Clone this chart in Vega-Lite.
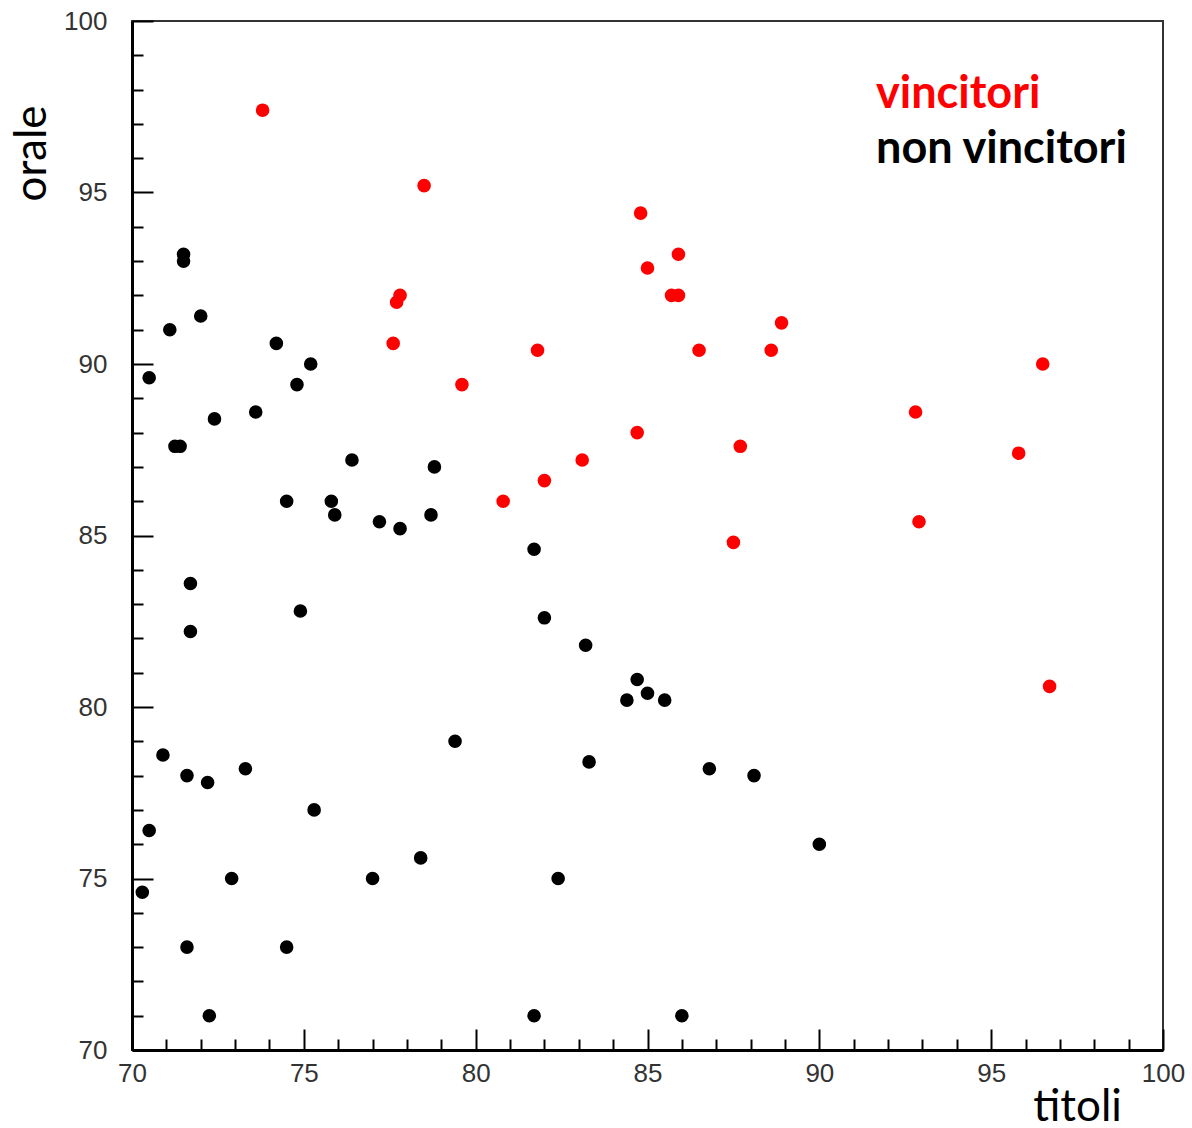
{
  "$schema": "https://vega.github.io/schema/vega-lite/v6.json",
  "width": 1031,
  "height": 1029,
  "autosize": {"type": "none"},
  "padding": {"left": 132, "top": 21, "right": 29, "bottom": 78},
  "background": "white",
  "config": {"view": {"stroke": "#333333", "strokeWidth": 2}},
  "datasets": {
    "punti": [
      {"gruppo": "non vincitori", "titoli": 70.3, "orale": 74.6},
      {"gruppo": "non vincitori", "titoli": 70.5, "orale": 89.6},
      {"gruppo": "non vincitori", "titoli": 70.5, "orale": 76.4},
      {"gruppo": "non vincitori", "titoli": 70.9, "orale": 78.6},
      {"gruppo": "non vincitori", "titoli": 71.1, "orale": 91.0},
      {"gruppo": "non vincitori", "titoli": 71.25, "orale": 87.6},
      {"gruppo": "non vincitori", "titoli": 71.4, "orale": 87.6},
      {"gruppo": "non vincitori", "titoli": 71.5, "orale": 93.2},
      {"gruppo": "non vincitori", "titoli": 71.5, "orale": 93.0},
      {"gruppo": "non vincitori", "titoli": 71.6, "orale": 78.0},
      {"gruppo": "non vincitori", "titoli": 71.6, "orale": 73.0},
      {"gruppo": "non vincitori", "titoli": 71.7, "orale": 83.6},
      {"gruppo": "non vincitori", "titoli": 71.7, "orale": 82.2},
      {"gruppo": "non vincitori", "titoli": 72.0, "orale": 91.4},
      {"gruppo": "non vincitori", "titoli": 72.2, "orale": 77.8},
      {"gruppo": "non vincitori", "titoli": 72.25, "orale": 71.0},
      {"gruppo": "non vincitori", "titoli": 72.4, "orale": 88.4},
      {"gruppo": "non vincitori", "titoli": 72.9, "orale": 75.0},
      {"gruppo": "non vincitori", "titoli": 73.3, "orale": 78.2},
      {"gruppo": "non vincitori", "titoli": 73.6, "orale": 88.6},
      {"gruppo": "non vincitori", "titoli": 74.2, "orale": 90.6},
      {"gruppo": "non vincitori", "titoli": 74.5, "orale": 86.0},
      {"gruppo": "non vincitori", "titoli": 74.5, "orale": 73.0},
      {"gruppo": "non vincitori", "titoli": 74.8, "orale": 89.4},
      {"gruppo": "non vincitori", "titoli": 74.9, "orale": 82.8},
      {"gruppo": "non vincitori", "titoli": 75.2, "orale": 90.0},
      {"gruppo": "non vincitori", "titoli": 75.3, "orale": 77.0},
      {"gruppo": "non vincitori", "titoli": 75.8, "orale": 86.0},
      {"gruppo": "non vincitori", "titoli": 75.9, "orale": 85.6},
      {"gruppo": "non vincitori", "titoli": 76.4, "orale": 87.2},
      {"gruppo": "non vincitori", "titoli": 77.0, "orale": 75.0},
      {"gruppo": "non vincitori", "titoli": 77.2, "orale": 85.4},
      {"gruppo": "non vincitori", "titoli": 77.8, "orale": 85.2},
      {"gruppo": "non vincitori", "titoli": 78.4, "orale": 75.6},
      {"gruppo": "non vincitori", "titoli": 78.7, "orale": 85.6},
      {"gruppo": "non vincitori", "titoli": 78.8, "orale": 87.0},
      {"gruppo": "non vincitori", "titoli": 79.4, "orale": 79.0},
      {"gruppo": "non vincitori", "titoli": 81.7, "orale": 84.6},
      {"gruppo": "non vincitori", "titoli": 81.7, "orale": 71.0},
      {"gruppo": "non vincitori", "titoli": 82.0, "orale": 82.6},
      {"gruppo": "non vincitori", "titoli": 82.4, "orale": 75.0},
      {"gruppo": "non vincitori", "titoli": 83.2, "orale": 81.8},
      {"gruppo": "non vincitori", "titoli": 83.3, "orale": 78.4},
      {"gruppo": "non vincitori", "titoli": 84.4, "orale": 80.2},
      {"gruppo": "non vincitori", "titoli": 84.7, "orale": 80.8},
      {"gruppo": "non vincitori", "titoli": 85.0, "orale": 80.4},
      {"gruppo": "non vincitori", "titoli": 85.5, "orale": 80.2},
      {"gruppo": "non vincitori", "titoli": 86.0, "orale": 71.0},
      {"gruppo": "non vincitori", "titoli": 86.8, "orale": 78.2},
      {"gruppo": "non vincitori", "titoli": 88.1, "orale": 78.0},
      {"gruppo": "non vincitori", "titoli": 90.0, "orale": 76.0},
      {"gruppo": "vincitori", "titoli": 73.8, "orale": 97.4},
      {"gruppo": "vincitori", "titoli": 78.5, "orale": 95.2},
      {"gruppo": "vincitori", "titoli": 77.6, "orale": 90.6},
      {"gruppo": "vincitori", "titoli": 77.7, "orale": 91.8},
      {"gruppo": "vincitori", "titoli": 77.8, "orale": 92.0},
      {"gruppo": "vincitori", "titoli": 79.6, "orale": 89.4},
      {"gruppo": "vincitori", "titoli": 80.8, "orale": 86.0},
      {"gruppo": "vincitori", "titoli": 81.8, "orale": 90.4},
      {"gruppo": "vincitori", "titoli": 82.0, "orale": 86.6},
      {"gruppo": "vincitori", "titoli": 83.1, "orale": 87.2},
      {"gruppo": "vincitori", "titoli": 84.7, "orale": 88.0},
      {"gruppo": "vincitori", "titoli": 84.8, "orale": 94.4},
      {"gruppo": "vincitori", "titoli": 85.0, "orale": 92.8},
      {"gruppo": "vincitori", "titoli": 85.7, "orale": 92.0},
      {"gruppo": "vincitori", "titoli": 85.9, "orale": 92.0},
      {"gruppo": "vincitori", "titoli": 85.9, "orale": 93.2},
      {"gruppo": "vincitori", "titoli": 86.5, "orale": 90.4},
      {"gruppo": "vincitori", "titoli": 87.5, "orale": 84.8},
      {"gruppo": "vincitori", "titoli": 87.7, "orale": 87.6},
      {"gruppo": "vincitori", "titoli": 88.6, "orale": 90.4},
      {"gruppo": "vincitori", "titoli": 88.9, "orale": 91.2},
      {"gruppo": "vincitori", "titoli": 92.8, "orale": 88.6},
      {"gruppo": "vincitori", "titoli": 92.9, "orale": 85.4},
      {"gruppo": "vincitori", "titoli": 95.8, "orale": 87.4},
      {"gruppo": "vincitori", "titoli": 96.5, "orale": 90.0},
      {"gruppo": "vincitori", "titoli": 96.7, "orale": 80.6}
    ],
    "etichette": [
      {"gruppo": "vincitori", "titoli": 91.65, "orale": 97.45},
      {"gruppo": "non vincitori", "titoli": 91.65, "orale": 95.85}
    ]
  },
  "encoding": {
    "x": {
      "field": "titoli", "type": "quantitative",
      "scale": {"domain": [70, 100], "nice": false, "zero": false},
      "axis": {
        "values": [70,71,72,73,74,75,76,77,78,79,80,81,82,83,84,85,86,87,88,89,90,91,92,93,94,95,96,97,98,99,100],
        "labelExpr": "datum.value % 5 === 0 ? datum.label : ''",
        "tickSize": {"condition": {"test": "datum.value % 5 === 0", "value": -21}, "value": -11},
        "tickColor": "#000000", "tickWidth": 2,
        "domainColor": "#000000", "domainWidth": 3,
        "grid": false,
        "labelFont": "Liberation Sans", "labelFontSize": 26, "labelColor": "#333333",
        "labelPadding": 31, "labelFlush": false, "labelOverlap": false,
        "title": "titoli", "titleFont": "Lato", "titleFontSize": 44, "titleFontWeight": "normal",
        "titleColor": "#000000", "titleX": 945, "titleY": 70, "titleAlign": "center", "titleBaseline": "alphabetic"
      }
    },
    "y": {
      "field": "orale", "type": "quantitative",
      "scale": {"domain": [70, 100], "nice": false, "zero": false},
      "axis": {
        "values": [70,71,72,73,74,75,76,77,78,79,80,81,82,83,84,85,86,87,88,89,90,91,92,93,94,95,96,97,98,99,100],
        "labelExpr": "datum.value % 5 === 0 ? datum.label : ''",
        "tickSize": {"condition": {"test": "datum.value % 5 === 0", "value": -21}, "value": -11},
        "tickColor": "#000000", "tickWidth": 2,
        "domainColor": "#000000", "domainWidth": 3,
        "grid": false,
        "labelFont": "Liberation Sans", "labelFontSize": 26, "labelColor": "#333333",
        "labelPadding": 46, "labelFlush": false, "labelOverlap": false,
        "title": "orale", "titleFont": "Lato", "titleFontSize": 44, "titleFontWeight": "normal",
        "titleColor": "#000000", "titleX": -100, "titleY": 132, "titleAngle": -90, "titleAlign": "center", "titleBaseline": "middle"
      }
    },
    "color": {
      "field": "gruppo", "type": "nominal",
      "scale": {"domain": ["vincitori", "non vincitori"], "range": ["#ff0000", "#000000"]},
      "legend": null
    }
  },
  "layer": [
    {
      "data": {"name": "punti"},
      "mark": {"type": "circle", "opacity": 1, "size": 185}
    },
    {
      "data": {"name": "etichette"},
      "mark": {"type": "text", "align": "left", "baseline": "alphabetic", "font": "Lato", "fontWeight": "bold", "fontSize": 45},
      "encoding": {
        "text": {"field": "gruppo"}
      }
    }
  ]
}
